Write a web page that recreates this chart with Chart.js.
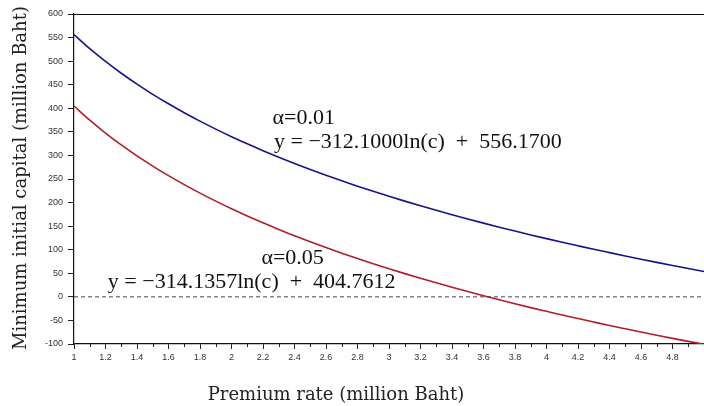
<!DOCTYPE html>
<html><head><meta charset="utf-8">
<script src="https://cdn.jsdelivr.net/npm/chart.js@4.4.1/dist/chart.umd.min.js"></script>
<style>html,body{margin:0;padding:0;background:#fff;}canvas{display:block;}</style>
</head><body>
<canvas id="c" width="704" height="406"></canvas>
<script>
// Premium rate c (million Baht)
const premium = [1.0,1.1,1.2,1.3,1.4,1.5,1.6,1.7,1.8,1.9,2.0,2.1,2.2,2.3,2.4,2.5,2.6,2.7,2.8,2.9,3.0,3.1,3.2,3.3,3.4,3.5,3.6,3.7,3.8,3.9,4.0,4.1,4.2,4.3,4.4,4.5,4.6,4.7,4.8,4.9,5.0];
// alpha = 0.01 (blue)
const capitalA01 = [556.2,526.4,499.3,474.3,451.2,429.6,409.5,390.6,372.7,355.8,339.8,324.6,310.1,296.2,282.9,270.2,258.0,246.2,234.8,223.9,213.3,203.1,193.1,183.5,174.2,165.2,156.4,147.8,139.5,131.4,123.5,115.8,108.3,100.9,93.8,86.8,79.9,73.2,66.6,60.2,53.9];
// alpha = 0.05 (red)
const capitalA05 = [404.8,374.8,347.5,322.3,299.1,277.4,257.1,238.1,220.1,203.1,187.0,171.7,157.1,143.1,129.8,116.9,104.6,92.7,81.3,70.3,59.6,49.3,39.4,29.7,20.3,11.2,2.4,-6.2,-14.6,-22.8,-30.7,-38.5,-46.0,-53.4,-60.7,-67.7,-74.6,-81.4,-88.0,-94.5,-100.8];
// zero reference line
const zeroX = [1.0, 5.0];
const zeroY = [0, 0];
const xTicks = [1,1.2,1.4,1.6,1.8,2,2.2,2.4,2.6,2.8,3,3.2,3.4,3.6,3.8,4,4.2,4.4,4.6,4.8];
const yTicks = [-100,-50,0,50,100,150,200,250,300,350,400,450,500,550,600];
const xRange = [1, 5];
const yRange = [-100, 600];
const xTitle = 'Premium rate (million Baht)';
const yTitle = 'Minimum initial capital (million Baht)';
// annotations: [text, x, y]
const notes = [
  ["α=0.01", 2.26, 378],
  ["y = −312.1000ln(c)  +  556.1700", 2.27, 329],
  ["α=0.05", 2.19, 83],
  ["y = −314.1357ln(c)  +  404.7612", 1.215, 32]
];

const serif = "'Liberation Serif', 'DejaVu Serif', serif";
const titleFont = "'DejaVu Serif', 'Liberation Serif', serif";
const sans = "'Liberation Sans', Arial, sans-serif";

const extras = {
  id: 'extras',
  afterDatasetsDraw(chart) {
    const ctx = chart.ctx, a = chart.chartArea;
    const xs = chart.scales.x, ys = chart.scales.y;
    ctx.save();
    // top border
    ctx.strokeStyle = '#111'; ctx.lineWidth = 1.2;
    ctx.beginPath(); ctx.moveTo(a.left, a.top + 0.5); ctx.lineTo(a.right, a.top + 0.5); ctx.stroke();
    // minor ticks on x axis
    ctx.strokeStyle = '#222'; ctx.lineWidth = 1;
    for (let i = 0; i < xTicks.length; i++) {
      const v = (i < xTicks.length - 1) ? (xTicks[i] + xTicks[i+1]) / 2 : xTicks[i] + 0.1;
      if (v > xRange[1]) continue;
      const px = Math.round(xs.getPixelForValue(v)) + 0.5;
      ctx.beginPath(); ctx.moveTo(px, a.bottom); ctx.lineTo(px, a.bottom + 3); ctx.stroke();
    }
    // annotations
    ctx.fillStyle = '#111';
    ctx.font = "22px " + serif;
    ctx.textBaseline = 'middle';
    ctx.textAlign = 'left';
    notes.forEach(n => {
      ctx.fillText(n[0], xs.getPixelForValue(n[1]), ys.getPixelForValue(n[2]));
    });
    // axis titles
    ctx.fillStyle = '#222';
    ctx.font = "18px " + titleFont;
    ctx.textBaseline = 'alphabetic';
    ctx.textAlign = 'center';
    ctx.fillText(xTitle, 336, 400);
    ctx.save();
    ctx.translate(26, (a.top + a.bottom) / 2 - 1);
    ctx.rotate(-Math.PI / 2);
    ctx.fillText(yTitle, 0, 0);
    ctx.restore();
    ctx.restore();
  }
};

new Chart(document.getElementById('c'), {
  type: 'line',
  data: {
    datasets: [
      { label: 'zero', data: zeroX.map((x, i) => ({x, y: zeroY[i]})), borderColor: '#444', borderWidth: 1, borderDash: [4, 3], pointRadius: 0, tension: 0 },
      { label: 'α=0.01', data: premium.map((x, i) => ({x, y: capitalA01[i]})), borderColor: '#14148a', borderWidth: 1.6, pointRadius: 0, tension: 0.4, cubicInterpolationMode: 'monotone' },
      { label: 'α=0.05', data: premium.map((x, i) => ({x, y: capitalA05[i]})), borderColor: '#b01e28', borderWidth: 1.6, pointRadius: 0, tension: 0.4, cubicInterpolationMode: 'monotone' }
    ]
  },
  options: {
    responsive: false, animation: false, devicePixelRatio: 1,
    layout: { padding: { top: 14, right: 0, left: 0, bottom: 0 } },
    plugins: { legend: { display: false }, tooltip: { enabled: false } },
    scales: {
      x: {
        type: 'linear', min: xRange[0], max: xRange[1],
        afterBuildTicks: s => { s.ticks = xTicks.map(v => ({ value: v })); },
        afterFit: s => { s.height = 62; },
        grid: { drawOnChartArea: false, drawTicks: true, tickLength: 5, color: '#222' },
        border: { display: true, color: '#111', width: 1.2 },
        ticks: { font: { size: 9, family: sans }, color: '#333', padding: 3, maxRotation: 0, autoSkip: false, callback: v => String(v) },
        title: { display: false, text: xTitle }
      },
      y: {
        type: 'linear', min: yRange[0], max: yRange[1],
        afterBuildTicks: s => { s.ticks = yTicks.map(v => ({ value: v })); },
        afterFit: s => { s.width = 74; },
        grid: { drawOnChartArea: false, drawTicks: true, tickLength: 6, color: '#222' },
        border: { display: true, color: '#111', width: 1.2 },
        ticks: { font: { size: 9, family: sans }, color: '#333', padding: 5, autoSkip: false, callback: v => String(v) },
        title: { display: false, text: yTitle }
      }
    }
  },
  plugins: [extras]
});
</script>
</body></html>
